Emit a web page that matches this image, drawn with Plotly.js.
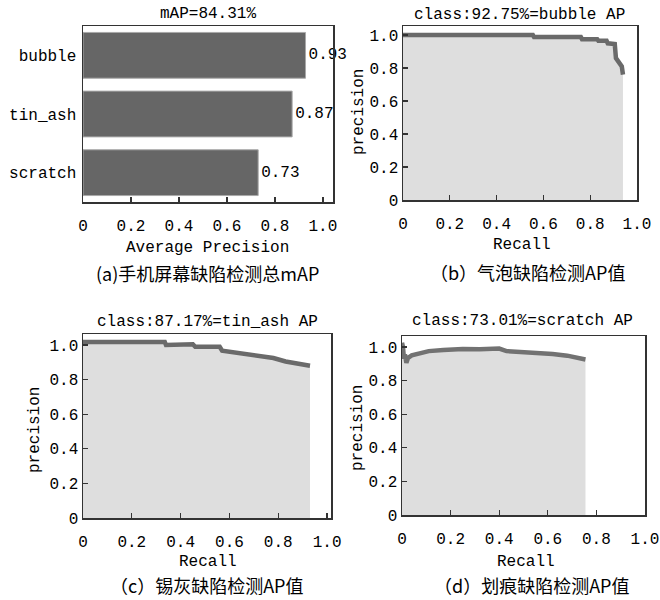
<!DOCTYPE html>
<html>
<head>
<meta charset="utf-8">
<script src="https://cdn.plot.ly/plotly-3.0.1.min.js"></script>
<style>html,body{margin:0;padding:0;background:#fff;}#chart{width:660px;height:600px;}</style>
</head>
<body>
<div id="chart"></div>
<script>
// ---- data ----
const classes = ['bubble', 'tin_ash', 'scratch'];
const apValues = [0.9275, 0.8717, 0.7301];
const mapValue = '84.31%';

const bubbleRecall    = [0, 0.555, 0.56, 0.76, 0.765, 0.83, 0.835, 0.87, 0.875, 0.905, 0.91, 0.92, 0.935, 0.94];
const bubblePrecision = [1.0, 1.0, 0.988, 0.988, 0.975, 0.975, 0.965, 0.965, 0.95, 0.945, 0.86, 0.835, 0.81, 0.76];

const tinRecall    = [0, 0.335, 0.34, 0.40, 0.45, 0.46, 0.56, 0.57, 0.62, 0.68, 0.73, 0.78, 0.83, 0.88, 0.93];
const tinPrecision = [1.018, 1.018, 1.0, 1.005, 1.005, 0.99, 0.99, 0.967, 0.958, 0.948, 0.94, 0.925, 0.905, 0.895, 0.88];

const scratchRecall    = [0, 0.004, 0.008, 0.012, 0.018, 0.025, 0.04, 0.07, 0.11, 0.17, 0.25, 0.32, 0.40, 0.43, 0.48, 0.55, 0.62, 0.68, 0.72, 0.755];
const scratchPrecision = [1.025, 1.0, 0.93, 0.955, 0.905, 0.935, 0.95, 0.962, 0.975, 0.982, 0.988, 0.986, 0.99, 0.975, 0.972, 0.966, 0.958, 0.948, 0.936, 0.925];

const xTickVals = [0, 0.2, 0.4, 0.6, 0.8, 1.0];
const xTickText = ['0', '0.2', '0.4', '0.6', '0.8', '1.0'];
const yTickVals = [0, 0.2, 0.4, 0.6, 0.8, 1.0];
const yTickText = ['0', '0.2', '0.4', '0.6', '0.8', '1.0'];

const subTitles = ['mAP=' + mapValue, 'class:92.75%=bubble AP', 'class:87.17%=tin_ash AP', 'class:73.01%=scratch AP'];
const captions = ['(a)手机屏幕缺陷检测总mAP', '（b）气泡缺陷检测AP值', '（c）锡灰缺陷检测AP值', '（d）划痕缺陷检测AP值'];

// ---- layout helpers ----
const W = 660, H = 600;
const px = v => v / W;
const py = v => 1 - v / H;
const MONO = 'Liberation Mono, DejaVu Sans Mono, monospace';
const CJK = 'Noto Sans CJK SC, sans-serif';
const lineColor = '#6a6a6a';
const fillColor = '#dedede';

function curve(x, y, xa, ya, col) {
  return {
    type: 'scatter', mode: 'lines', x: x, y: y, xaxis: xa, yaxis: ya,
    fill: 'tozeroy', fillcolor: fillColor,
    line: {color: col, width: 4.5, shape: 'linear'},
    hoverinfo: 'skip', showlegend: false
  };
}

const traces = [
  {
    type: 'bar', orientation: 'h', x: apValues, y: classes, xaxis: 'x', yaxis: 'y',
    marker: {color: '#666666', line: {color: '#a8a8a8', width: 1}},
    width: 0.78,
    text: apValues.map(v => v.toFixed(2)), textposition: 'outside',
    textfont: {family: MONO, size: 16, color: '#000'},
    constraintext: 'none', cliponaxis: false, showlegend: false, hoverinfo: 'skip'
  },
  curve(bubbleRecall, bubblePrecision, 'x2', 'y2', lineColor),
  curve(tinRecall, tinPrecision, 'x3', 'y3', lineColor),
  curve(scratchRecall, scratchPrecision, 'x4', 'y4', '#727272')
];

const tickFont = {family: MONO, size: 16, color: '#000'};
function xAxis(domain, range, anchor) {
  return {
    domain: domain, range: range, anchor: anchor,
    tickmode: 'array', tickvals: xTickVals, ticktext: xTickText,
    ticks: 'inside', ticklen: 5, tickwidth: 1.2, tickcolor: '#333',
    showline: true, mirror: true, linecolor: '#333', linewidth: 1.5,
    showgrid: false, zeroline: false, tickfont: tickFont, ticklabelstandoff: 8,
    fixedrange: true
  };
}
function yAxis(domain, range, anchor) {
  return {
    domain: domain, range: range, anchor: anchor,
    tickmode: 'array', tickvals: yTickVals, ticktext: yTickText,
    ticks: 'inside', ticklen: 5, tickwidth: 1.2, tickcolor: '#333',
    showline: true, mirror: true, linecolor: '#333', linewidth: 1.5,
    showgrid: false, zeroline: false, tickfont: tickFont, ticklabelstandoff: 0,
    fixedrange: true
  };
}

const yA = {
  domain: [py(202), py(26)], anchor: 'x', type: 'category',
  categoryorder: 'array', categoryarray: classes, range: [2.5, -0.5],
  ticks: '', showline: true, mirror: true, linecolor: '#333', linewidth: 1.5,
  showgrid: false, zeroline: false, tickfont: tickFont, ticklabelstandoff: 2, fixedrange: true
};

function ann(text, x, y, font, angle) {
  const a = {text: text, x: px(x), y: py(y), xref: 'paper', yref: 'paper',
    xanchor: 'center', yanchor: 'middle', showarrow: false, font: font};
  if (angle) a.textangle = angle;
  return a;
}
const tFont = {family: MONO, size: 16, color: '#000'};
const cFont = {family: CJK, size: 18, color: '#000'};

const annotations = [
  ann(subTitles[0], 208, 14, tFont),
  ann(subTitles[1], 519, 15, tFont),
  ann(subTitles[2], 207, 322, tFont),
  ann(subTitles[3], 522, 321, tFont),
  ann('Average Precision', 208, 248, tFont),
  ann('Recall', 522, 245, tFont),
  ann('Recall', 208, 562, tFont),
  ann('Recall', 526, 562, tFont),
  ann('precision', 359, 112, tFont, -90),
  ann('precision', 35, 430, tFont, -90),
  ann('precision', 358, 428, tFont, -90),
  ann(captions[0], 207, 273, cFont),
  ann(captions[1], 527, 272, cFont),
  ann(captions[2], 207, 585, cFont),
  ann(captions[3], 532, 585, cFont)
];

const layout = {
  width: W, height: H,
  margin: {l: 0, r: 0, t: 0, b: 0},
  paper_bgcolor: '#fff', plot_bgcolor: '#fff',
  showlegend: false,
  xaxis: xAxis([px(83), px(333)], [0, 1.042], 'y'),
  yaxis: yA,
  xaxis2: xAxis([px(403), px(637)], [0, 1.0], 'y2'),
  yaxis2: yAxis([py(200), py(26)], [0, 1.055], 'x2'),
  xaxis3: xAxis([px(83), px(331)], [0, 1.016], 'y3'),
  yaxis3: yAxis([py(518), py(334)], [0, 1.064], 'x3'),
  xaxis4: xAxis([px(402), px(645)], [0, 1.0], 'y4'),
  yaxis4: yAxis([py(515), py(336)], [0, 1.065], 'x4'),
  annotations: annotations,
  font: {family: MONO, color: '#000'}
};

Plotly.newPlot('chart', traces, layout, {displayModeBar: false, staticPlot: true});
</script>
</body>
</html>
